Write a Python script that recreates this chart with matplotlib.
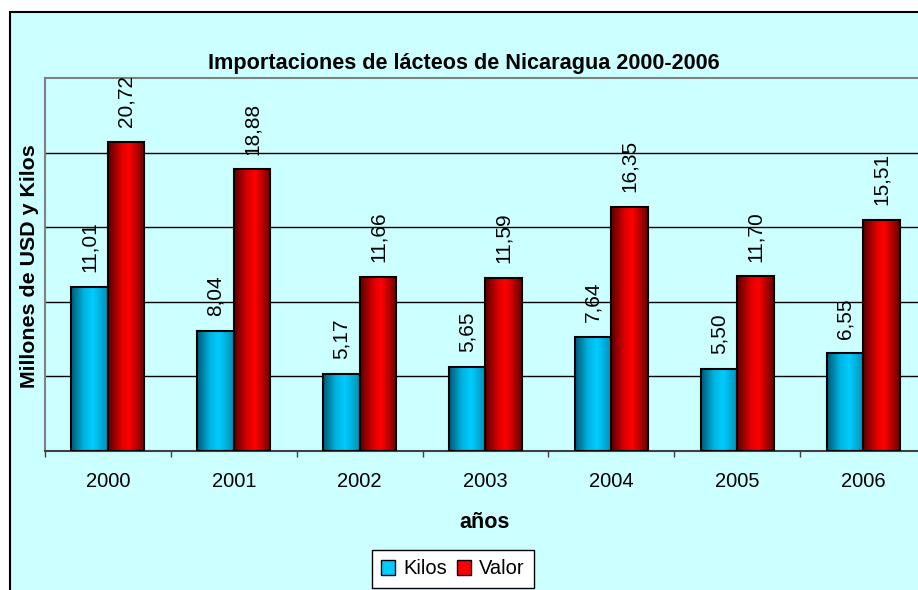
import numpy as np
import matplotlib
matplotlib.use("Agg")
import matplotlib.pyplot as plt
from matplotlib.colors import LinearSegmentedColormap
from matplotlib.patches import Rectangle, Patch

plt.rcParams['font.family'] = ['Liberation Sans', 'DejaVu Sans']

# datos
years = ['2000', '2001', '2002', '2003', '2004', '2005', '2006']
kilos = [11.01, 8.04, 5.17, 5.65, 7.64, 5.50, 6.55]
valor = [20.72, 18.88, 11.66, 11.59, 16.35, 11.70, 15.51]
series_names = ['Kilos', 'Valor']

W, H = 918, 590
fig = plt.figure(figsize=(W / 100, H / 100), dpi=100)
fig.patch.set_facecolor('white')

# fondo cyan del grafico
panel = Rectangle((10 / W, -0.05), 1.1, (1 - 12 / H) + 0.05, transform=fig.transFigure,
                  facecolor='#ccffff', edgecolor='black', lw=1.5, zorder=-1)
fig.patches.append(panel)

ax = fig.add_axes([45 / W, 1 - 451 / H, (926 - 45) / W, (451 - 78) / H])
ax.set_facecolor('#ccffff')

x = np.arange(len(years))
bw = 0.29

cyan_cm = LinearSegmentedColormap.from_list('c', [(0, '#005a78'), (0.35, '#00b4e0'),
                                                 (0.6, '#00ccff'), (1, '#0090b4')])
red_cm = LinearSegmentedColormap.from_list('r', [(0, '#5a0000'), (0.38, '#e00000'),
                                                (0.58, '#ff0000'), (1, '#6a0000')])

b1 = ax.bar(x - bw / 2, kilos, bw, facecolor='none', edgecolor='black', lw=1.5, zorder=3)
b2 = ax.bar(x + bw / 2, valor, bw, facecolor='none', edgecolor='black', lw=1.5, zorder=3)

grad = np.linspace(0, 1, 64).reshape(1, -1)
for bars, cm in ((b1, cyan_cm), (b2, red_cm)):
    for p in bars:
        x0 = p.get_x()
        ax.imshow(grad, extent=[x0, x0 + p.get_width(), 0, p.get_height()],
                  cmap=cm, aspect='auto', zorder=2.5, interpolation='bilinear')

def lbl(v):
    return ('%.2f' % v).replace('.', ',')

for bars, vals in ((b1, kilos), (b2, valor)):
    for p, v in zip(bars, vals):
        ax.annotate(lbl(v), (p.get_x() + p.get_width() / 2, v), xytext=(0, 10.5),
                    textcoords='offset points', rotation=90, ha='center', va='bottom',
                    fontsize=15, zorder=5)

ax.set_xlim(-0.5, len(years) - 0.5)
ax.set_ylim(0, 25)

ax.set_yticks([5, 10, 15, 20])
ax.set_yticklabels([])
ax.tick_params(axis='y', length=0)
ax.yaxis.grid(True, color='black', lw=1)
ax.set_axisbelow(True)

ax.set_xticks(x)
ax.set_xticklabels(years, fontsize=14.5)
ax.set_xticks(np.arange(-0.5, len(years), 1), minor=True)
ax.tick_params(axis='x', which='major', length=0, pad=15)
ax.tick_params(axis='x', which='minor', length=4, width=1, color='#404040', direction='out')

for s in ('left', 'top'):
    ax.spines[s].set_color('#808080')
    ax.spines[s].set_linewidth(1.5)
ax.spines['bottom'].set_color('#404040')
ax.spines['bottom'].set_linewidth(1.5)
ax.spines['right'].set_visible(False)

fig.text(464 / W, 1 - 64 / H, 'Importaciones de lácteos de Nicaragua 2000-2006',
         ha='center', va='center', fontsize=15.6, fontweight='bold')
fig.text(30 / W, 1 - 266 / H, 'Millones de USD y Kilos', rotation=90,
         ha='center', va='center', fontsize=15.4, fontweight='bold')
fig.text(485 / W, 1 - 522 / H, 'años', ha='center', va='center',
         fontsize=15.5, fontweight='bold')

handles = [Patch(facecolor='#00ccff', edgecolor='black', lw=1),
           Patch(facecolor='#ff0000', edgecolor='black', lw=1)]
leg = fig.legend(handles, series_names, loc='center', bbox_to_anchor=(453 / W, 1 - 569 / H),
                 ncol=2, fontsize=14.5, frameon=True, fancybox=False, framealpha=1,
                 edgecolor='black', handlelength=0.7, handleheight=0.7, handletextpad=0.4,
                 columnspacing=0.5, borderpad=0.45)
leg.get_frame().set_linewidth(1)

fig.savefig('out.png', dpi=100)
